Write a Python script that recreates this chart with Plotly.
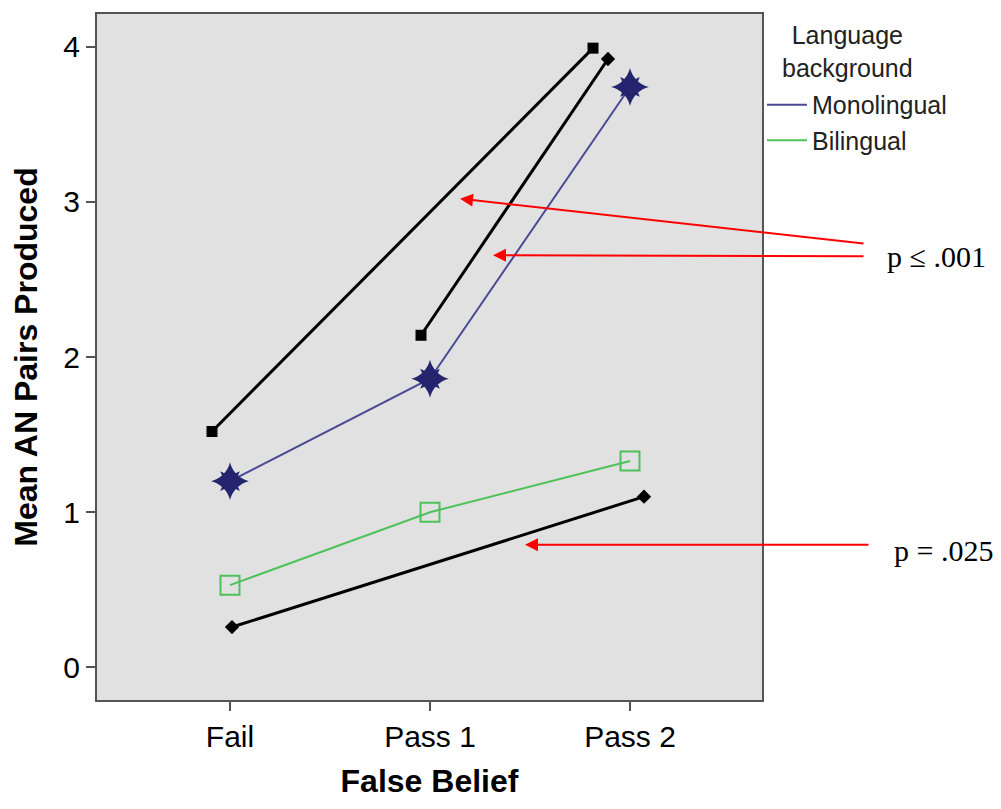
import plotly.graph_objects as go

# Group means by false-belief outcome
categories = ["Fail", "Pass 1", "Pass 2"]
cat_pos = [0, 1, 2]
monolingual = [1.20, 1.86, 3.74]
bilingual = [0.53, 1.00, 1.33]

# Comparison lines (x in category units, y in means)
cmp1_x = [-0.09, 1.815]
cmp1_y = [1.52, 3.99]
cmp2_x = [0.955, 1.89]
cmp2_y = [2.14, 3.92]
cmp3_x = [0.01, 2.07]
cmp3_y = [0.26, 1.10]

# Arrow targets and significance labels
arrow_x = [1.15, 1.315, 1.475]
arrow_y = [3.02, 2.656, 0.791]
p_labels = ["p ≤ .001", "p = .025"]
p_label_x = [1.2617, 1.2722]   # paper coordinates
p_label_y = [0.6468, 0.218]

y_ticks = [0, 1, 2, 3, 4]

MONO_LINE = "#4a4a96"
MONO_FILL = "#25256f"
BI_COLOR = "#4cc259"

fig = go.Figure()

# comparison lines
for xs, ys, syms in [
    (cmp1_x, cmp1_y, ["square", "square"]),
    (cmp2_x, cmp2_y, ["square", "diamond"]),
    (cmp3_x, cmp3_y, ["diamond", "diamond"]),
]:
    fig.add_trace(go.Scatter(
        x=xs, y=ys, mode="lines+markers", showlegend=False,
        line=dict(color="black", width=3),
        marker=dict(symbol=syms, size=11, color="black"),
        hoverinfo="skip",
    ))

# bilingual series
fig.add_trace(go.Scatter(
    x=cat_pos, y=bilingual, mode="lines+markers", showlegend=False,
    line=dict(color=BI_COLOR, width=2),
    marker=dict(symbol="square-open", size=19, color=BI_COLOR, line=dict(width=2)),
))

# monolingual series with starburst markers
fig.add_trace(go.Scatter(
    x=cat_pos, y=monolingual, mode="lines", showlegend=False,
    line=dict(color=MONO_LINE, width=2),
))
for sym, sz in [("star-diamond", 27), ("star-square", 18), ("circle", 13)]:
    fig.add_trace(go.Scatter(
        x=cat_pos, y=monolingual, mode="markers", showlegend=False,
        marker=dict(symbol=sym, size=sz, color=MONO_FILL, line=dict(width=0)),
    ))

# legend entries (line samples only)
fig.add_trace(go.Scatter(x=[None], y=[None], mode="lines", name="Monolingual",
                         line=dict(color=MONO_LINE, width=2)))
fig.add_trace(go.Scatter(x=[None], y=[None], mode="lines", name="Bilingual",
                         line=dict(color=BI_COLOR, width=2)))

ann = []
tails = [(405, 45), (372, 1), (345, 0)]
for x, y, (ax, ay) in zip(arrow_x, arrow_y, tails):
    ann.append(dict(x=x, y=y, xref="x", yref="y", ax=ax, ay=ay,
                    axref="pixel", ayref="pixel", text="", showarrow=True,
                    arrowhead=2, arrowsize=1.3, arrowwidth=2, arrowcolor="red"))
for t, x, y in zip(p_labels, p_label_x, p_label_y):
    ann.append(dict(x=x, y=y, xref="paper", yref="paper", text=t, showarrow=False,
                    xanchor="center", yanchor="middle",
                    font=dict(family="Liberation Serif", size=30, color="black")))

# legend heading
ann.append(dict(x=1.129, y=0.945, xref="paper", yref="paper",
                xanchor="center", yanchor="middle",
                text="Language<br>background", showarrow=False, align="center",
                font=dict(size=25, color="#222")))

fig.update_layout(
    width=1001, height=809,
    margin=dict(l=97, r=239, t=12, b=109),
    paper_bgcolor="white", plot_bgcolor="#e1e1e1",
    font=dict(family="Liberation Sans", color="black"),
    annotations=ann,
    legend=dict(
        x=1.0, y=0.901, xanchor="left", yanchor="top",
        font=dict(size=25, color="#222"),
        bgcolor="rgba(0,0,0,0)", itemwidth=40, tracegroupgap=0,
    ),
    xaxis=dict(
        range=[-0.665, 2.66], tickvals=cat_pos, ticktext=categories,
        showgrid=False, zeroline=False,
        showline=True, mirror=True, linecolor="#555", linewidth=2,
        ticks="outside", ticklen=9, tickcolor="#555", tickwidth=2,
        tickfont=dict(size=30),
        title=dict(text="<b>False Belief</b>", font=dict(size=32), standoff=18),
    ),
    yaxis=dict(
        range=[-0.21, 4.21], tickvals=y_ticks,
        showgrid=False, zeroline=False,
        showline=True, mirror=True, linecolor="#555", linewidth=2,
        ticks="outside", ticklen=9, tickcolor="#555", tickwidth=2,
        tickfont=dict(size=30),
        title=dict(text="<b>Mean AN Pairs Produced</b>", font=dict(size=32), standoff=16),
    ),
)

fig.write_html("out.html")
